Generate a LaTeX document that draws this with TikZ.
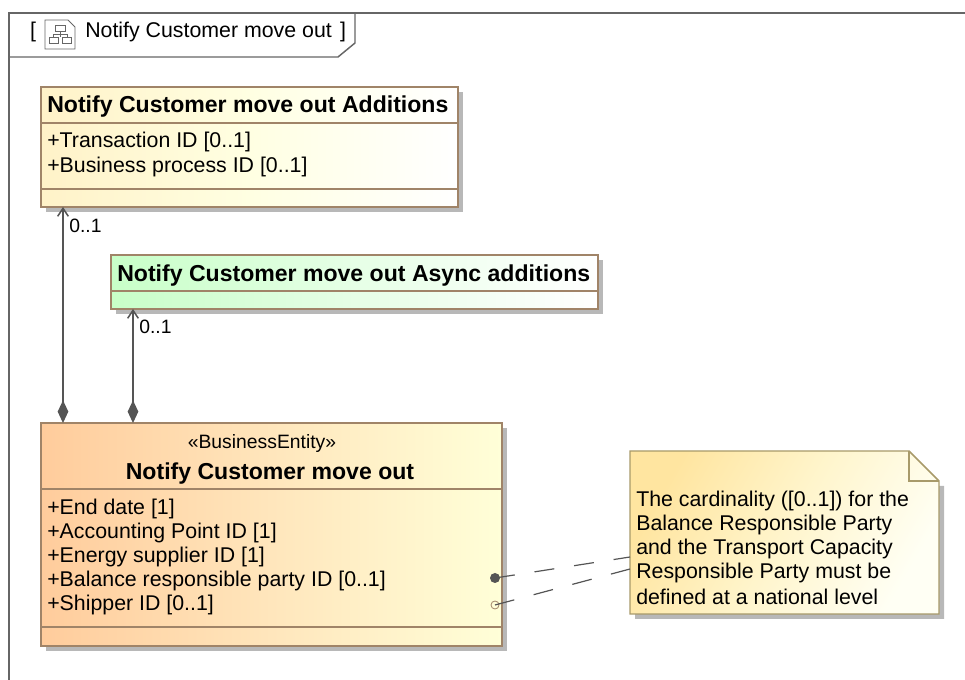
\documentclass[tikz,border=0pt]{standalone}
\usepackage{fontspec}
\setmainfont{Liberation Sans}
\usetikzlibrary{calc, positioning, shadows, arrows.meta}
\definecolor{boxline}{HTML}{A08468}
\definecolor{noteline}{HTML}{A89A6A}
\definecolor{frameline}{HTML}{666666}
\definecolor{linkline}{HTML}{555555}
\definecolor{addfill}{HTML}{FFF2C8}
\definecolor{addmid}{HTML}{FFFFE2}
\definecolor{asyncfill}{HTML}{C8FFC8}
\definecolor{asyncmid}{HTML}{E6FFE6}
\definecolor{entityfill}{HTML}{FFCC9C}
\definecolor{entitymid}{HTML}{FFE6BC}
\definecolor{entityend}{HTML}{FFFFD8}
\definecolor{notefill}{HTML}{FFE5A0}
\definecolor{notemid}{HTML}{FFF5CC}
\definecolor{noteend}{HTML}{FFFFF4}
\tikzset{
    classbox/.style={draw=boxline, line width=1.1pt, rectangle, inner sep=0pt, outer sep=0pt, anchor=north west, shading angle=65, drop shadow={shadow xshift=3.5pt, shadow yshift=-3.5pt, fill=black!28, opacity=1}},
    txt/.style={inner sep=0pt, font=\fontsize{16pt}{19pt}\selectfont},
    smalltxt/.style={inner sep=0pt, font=\fontsize{14.5pt}{18pt}\selectfont},
    attr/.style={txt, anchor=west},
    boldtxt/.style={inner sep=0pt, font=\fontsize{17.3pt}{20pt}\selectfont\bfseries},
    sepline/.style={draw=boxline, line width=1.1pt},
    link/.style={draw=linkline, line width=1.1pt, {Diamond[length=17pt, width=8pt]}-{Straight Barb[length=6pt, width=8pt]}},
    notelink/.style={draw=linkline, line width=0.9pt, dash pattern=on 15pt off 15pt}
}
\begin{document}
\begin{tikzpicture}[x=0.75pt, y=-0.75pt]
    \useasboundingbox (0,0) rectangle (965,680);

    % Draw the frame
    \draw[frameline, line width=1.1pt] (9,680) -- (9,13) -- (965,13);
    \draw[frameline, line width=1.1pt] (355,13) -- (355,43) -- (338,57) -- (9,57);

    % Frame title and its icon
    \node[txt] (lbrack) at (33,32) {[};
    \node[attr] (frametitle) at (85,32) {Notify Customer move out};
    \node[txt] (rbrack) at (343,32) {]};
    \draw[frameline, line width=0.6pt] (45,20) -- (68,20) -- (75,27) -- (75,49) -- (45,49) -- cycle;
    \draw[frameline, line width=0.6pt] (55,25) rectangle (65,31);
    \draw[frameline, line width=0.6pt] (49,37) rectangle (58,43);
    \draw[frameline, line width=0.6pt] (62,37) rectangle (71,43);
    \draw[frameline, line width=0.6pt] (60,31) -- (60,37) (53,37) -- (53,34) -- (67,34) -- (67,37);

    % Draw the boxes
    \node[classbox, minimum width=312.75pt, minimum height=90pt, left color=addfill, right color=white, middle color=addmid] (addbox) at (41,87) {};
    \node[classbox, minimum width=365.25pt, minimum height=40.5pt, left color=asyncfill, right color=white, middle color=asyncmid] (asyncbox) at (111,255) {};
    \node[classbox, minimum width=345.75pt, minimum height=167.25pt, left color=entityfill, right color=entityend, middle color=entitymid] (entitybox) at (41,423) {};

    % Compartment lines
    \draw[sepline] ($(addbox.north west)+(0,36)$) -- ($(addbox.north east)+(0,36)$);
    \draw[sepline] ($(addbox.north west)+(0,102)$) -- ($(addbox.north east)+(0,102)$);
    \draw[sepline] ($(asyncbox.north west)+(0,36)$) -- ($(asyncbox.north east)+(0,36)$);
    \draw[sepline] ($(entitybox.north west)+(0,66)$) -- ($(entitybox.north east)+(0,66)$);
    \draw[sepline] ($(entitybox.north west)+(0,204)$) -- ($(entitybox.north east)+(0,204)$);

    % Add text inside the boxes
    \node[boldtxt, anchor=west] (addtitle) at (47,107) {Notify Customer move out Additions};
    \node[attr] (addattra) at (47,142) {+Transaction ID [0..1]};
    \node[attr] (addattrb) at (47,167) {+Business process ID [0..1]};

    \node[boldtxt, anchor=west] (asynctitle) at (117,276) {Notify Customer move out Async additions};

    \node[smalltxt] (stereo) at (262,444) {«BusinessEntity»};
    \node[boldtxt] (entitytitle) at (270,474) {Notify Customer move out};
    \node[attr] (entattra) at (47,509) {+End date [1]};
    \node[attr] (entattrb) at (47,533) {+Accounting Point ID [1]};
    \node[attr] (entattrc) at (47,557) {+Energy supplier ID [1]};
    \node[attr] (entattrd) at (47,581) {+Balance responsible party ID [0..1]};
    \node[attr] (entattre) at (47,605) {+Shipper ID [0..1]};

    % Associations
    \draw[link] ($(entitybox.north west)+(22,0)$) -- ($(addbox.south west)+(22,0)$);
    \draw[link] ($(entitybox.north west)+(92,0)$) -- ($(asyncbox.south west)+(22,0)$);
    \node[smalltxt, anchor=west] (multa) at (69,226) {0..1};
    \node[smalltxt, anchor=west] (multb) at (139,327) {0..1};

    % Draw the note
    \node[rectangle, inner sep=0pt, outer sep=0pt, anchor=north west, minimum width=231.75pt, minimum height=122.25pt] (note) at (630,451) {};
    \fill[black!28] ($(note.north east)+(5,35)$) -- ($(note.south east)+(5,5)$) -- ($(note.south west)+(5,5)$) -- ($(note.south west)+(5,0)$) -- ($(note.south east)+(0,0)$) -- ($(note.north east)+(0,35)$) -- cycle;
    \draw[draw=noteline, line width=1.1pt, left color=notefill, right color=noteend, middle color=notemid, shading angle=60] (note.north west) -- ($(note.north east)+(-30,0)$) -- ($(note.north east)+(0,30)$) -- (note.south east) -- (note.south west) -- cycle;
    \draw[draw=noteline, line width=1.1pt] ($(note.north east)+(-30,0)$) -- ($(note.north east)+(-30,30)$) -- ($(note.north east)+(0,30)$);
    \node[attr] (notea) at (636,501) {The cardinality ([0..1]) for the};
    \node[attr] (noteb) at (636,525) {Balance Responsible Party};
    \node[attr] (notec) at (636,549) {and the Transport Capacity};
    \node[attr] (noted) at (636,573) {Responsible Party must be};
    \node[attr] (notee) at (636,597) {defined at a national level};

    % Note anchors
    \node[circle, fill=linkline, inner sep=0pt, minimum size=7.5pt] (dota) at (495,578) {};
    \node[circle, draw=boxline, inner sep=0pt, minimum size=6pt, line width=0.6pt] (dotb) at (495,605) {};
    \draw[notelink] (dota.center) -- ($(note.north west)+(0,106)$);
    \draw[notelink] (dotb.center) -- ($(note.north west)+(0,118)$);
\end{tikzpicture}
\end{document}
